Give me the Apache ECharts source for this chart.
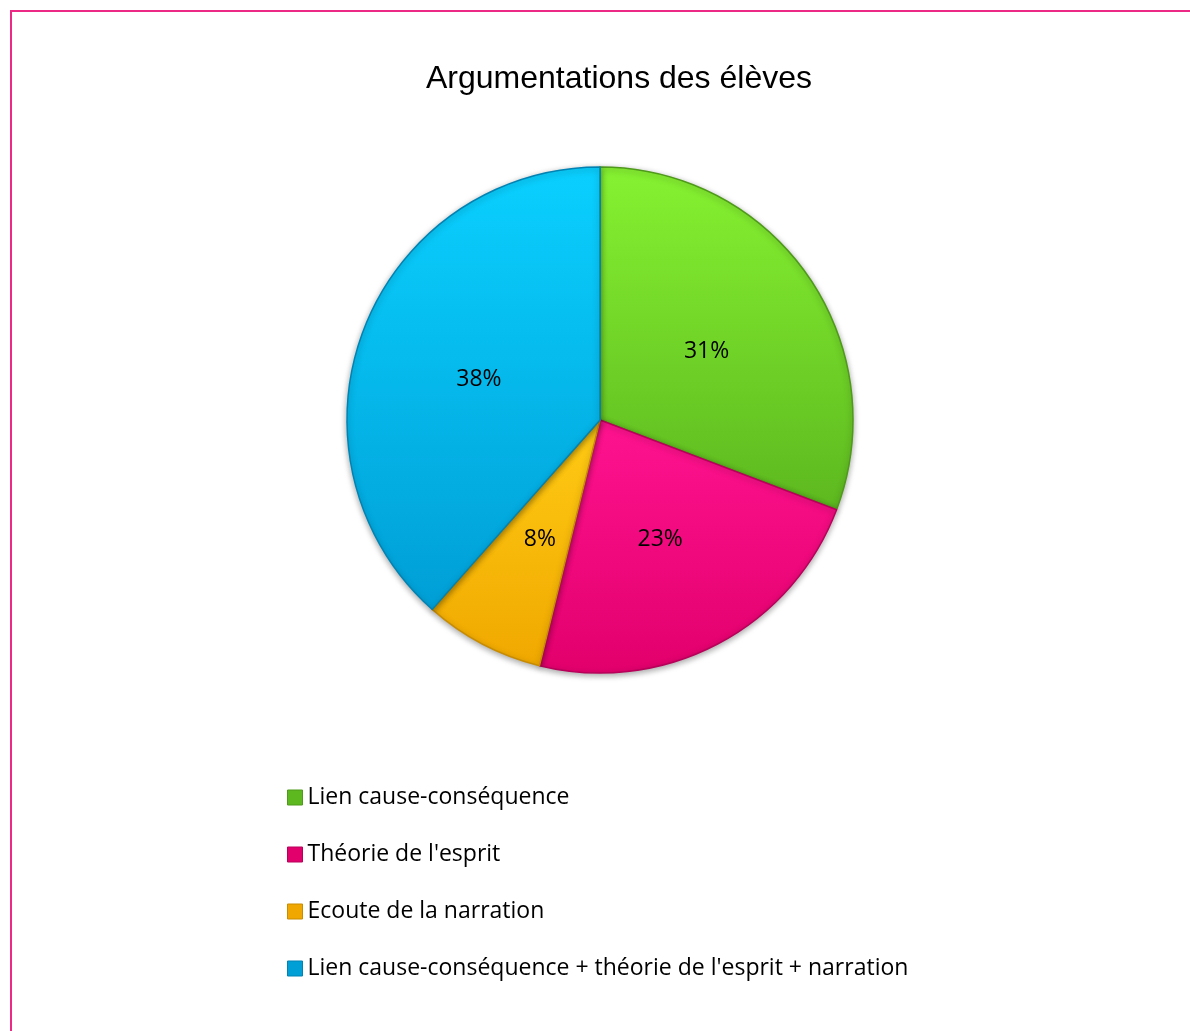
<!DOCTYPE html>
<html>
<head>
<meta charset="utf-8">
<script src="https://cdn.jsdelivr.net/npm/echarts@6/dist/echarts.min.js"></script>
<style>
  html, body { margin: 0; padding: 0; background: #fff; }
  #frame {
    position: absolute; left: 10px; top: 10px;
    width: 1200px; height: 1040px;
    border-left: 2px solid #ec2a85; border-top: 2px solid #ec2a85;
    box-sizing: border-box;
  }
  #chart { position: absolute; left: 0; top: 0; width: 1190px; height: 1031px; }
</style>
</head>
<body>
<div id="frame"></div>
<div id="chart"></div>
<script>
// categories and counts (percentages come from these)
const categories = [
  'Lien cause-conséquence',
  "Théorie de l'esprit",
  'Ecoute de la narration',
  "Lien cause-conséquence + théorie de l'esprit + narration"
];
const counts = [4, 3, 1, 5];

// slice colours: top / bottom of the gradient
const colorTop = ['#86f231', '#ff1390', '#ffcb14', '#0ad0ff'];
const colorBottom = ['#5db81f', '#e2006c', '#f0a800', '#009fd6'];
const edgeColor = ['#4f9a1a', '#b8005a', '#c98c00', '#0083b3'];

const myChart = echarts.init(document.getElementById('chart'));

const grad = (i) => ({
  type: 'linear', x: 0, y: 0, x2: 0, y2: 1,
  colorStops: [
    { offset: 0, color: colorTop[i] },
    { offset: 1, color: colorBottom[i] }
  ]
});

const option = {
  animation: false,
  title: {
    text: 'Argumentations des élèves',
    left: 614, top: 58, textAlign: 'center',
    textStyle: { fontFamily: 'Liberation Sans', fontSize: 32, fontWeight: 'normal', color: '#000' }
  },
  legend: {
    orient: 'vertical',
    left: 287, top: 786,
    padding: 0,
    itemWidth: 15, itemHeight: 15,
    itemGap: 34,
    itemTextGap: 6,
    icon: 'rect',
    textStyle: { fontFamily: 'Open Sans', fontSize: 23, color: '#000' },
    data: categories.map((c, i) => ({ name: c, itemStyle: { color: colorBottom[i], borderColor: edgeColor[i], borderWidth: 1 } }))
  },
  series: [{
    type: 'pie',
    center: [600, 420],
    radius: [0, 253],
    startAngle: 90,
    clockwise: true,
    label: {
      position: 'inside',
      formatter: (p) => '{v|' + Math.round(p.percent) + '%}',
      rich: { v: { fontFamily: 'Open Sans', fontSize: 23, color: '#000', padding: [10, 0, 0, 0] } }
    },
    labelLine: { show: false },
    emphasis: { disabled: true },
    data: categories.map((c, i) => ({
      name: c, value: counts[i],
      itemStyle: {
        color: grad(i),
        borderColor: edgeColor[i], borderWidth: 1.5,
        shadowColor: 'rgba(0,0,0,0.35)', shadowBlur: 6, shadowOffsetY: 2
      }
    }))
  }]
};
myChart.setOption(option);
</script>
</body>
</html>
